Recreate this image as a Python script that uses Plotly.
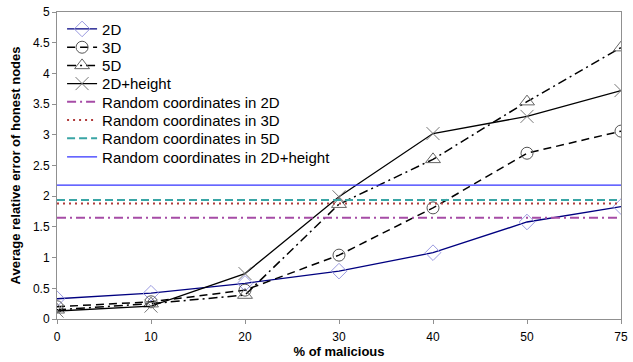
import plotly.graph_objects as go

categories = ["0", "10", "20", "30", "40", "50", "75"]
d2 = [0.33, 0.42, 0.58, 0.78, 1.08, 1.58, 1.83]
d3 = [0.20, 0.28, 0.47, 1.04, 1.81, 2.70, 3.06]
d5 = [0.15, 0.25, 0.39, 1.87, 2.60, 3.54, 4.42]
d2h = [0.13, 0.21, 0.74, 1.99, 3.02, 3.30, 3.72]
rand2 = 1.65
rand3 = 1.88
rand5 = 1.94
rand2h = 2.18

font = "Arial, Liberation Sans, sans-serif"
fig = go.Figure()

# legend entry centres, in pixels from the top of the figure
legend_rows = [27.3, 45.7, 64.0, 82.3, 100.7, 119.0, 137.3, 156.0]
TOP, BOTTOM = 10, 43
PLOT_H = 362 - TOP - BOTTOM

idx = [0]

def add(name, y, color, dash, width=1.5, symbol=None, mcolor=None, msize=11):
    kw = {}
    mode = "lines"
    if symbol:
        mode = "lines+markers"
        kw["marker"] = dict(symbol=symbol, size=msize, color=mcolor,
                            line=dict(color=mcolor, width=1))
    i = idx[0]
    lname = "legend" if i == 0 else f"legend{i + 1}"
    idx[0] += 1
    fig.add_trace(go.Scatter(x=categories, y=y, name=name, mode=mode, legend=lname,
                             line=dict(color=color, dash=dash, width=width), **kw))
    ypaper = 1 - (legend_rows[i] - TOP) / PLOT_H
    fig.update_layout({lname: dict(x=0.009, y=ypaper, xanchor="left", yanchor="middle",
                                   bgcolor="rgba(0,0,0,0)", font=dict(size=15),
                                   itemwidth=30, borderwidth=0)})

add("2D", d2, "#000080", "solid", 1.3, "diamond-open", "#9a9ae0", 12)
add("3D", d3, "#000000", "8px,5px", 1.5, "circle-open", "#555555", 12)
add("5D", d5, "#000000", "9px,4px,2px,4px", 1.5, "triangle-up-open", "#666666", 13)
add("2D+height", d2h, "#000000", "solid", 1.3, "x-thin-open", "#777777", 13)
add("Random coordinates in 2D", [rand2] * 7, "#a64ca6", "9px,4px,2px,4px", 2)
add("Random coordinates in 3D", [rand3] * 7, "#b03a3a", "2px,4px", 2)
add("Random coordinates in 5D", [rand5] * 7, "#3aa5a5", "8px,4px", 2)
add("Random coordinates in 2D+height", [rand2h] * 7, "#3333ff", "solid", 1.3)

fig.update_layout(
    width=633, height=362,
    margin=dict(l=57, r=5, t=TOP, b=BOTTOM),
    paper_bgcolor="white", plot_bgcolor="white",
    font=dict(family=font, size=12, color="black"),
    showlegend=True,
)
fig.update_xaxes(type="category", range=[0, 6], showgrid=False,
                 showline=True, linecolor="#909090", linewidth=1, mirror=True,
                 ticks="outside", ticklen=4, tickcolor="#909090", ticklabelstandoff=3,
                 title=dict(text="<b>% of malicious</b>", font=dict(size=13), standoff=1),
                 tickfont=dict(size=12))
fig.update_yaxes(range=[0, 5], dtick=0.5, showgrid=False, zeroline=False,
                 showline=True, linecolor="#909090", linewidth=1, mirror=True,
                 ticks="outside", ticklen=4, tickcolor="#909090",
                 title=dict(text="<b>Average relative error of honest nodes</b>", font=dict(size=13), standoff=9),
                 tickfont=dict(size=12))

fig.write_html("out.html", config={"displayModeBar": False},
               post_script="document.body.style.margin='0';")
